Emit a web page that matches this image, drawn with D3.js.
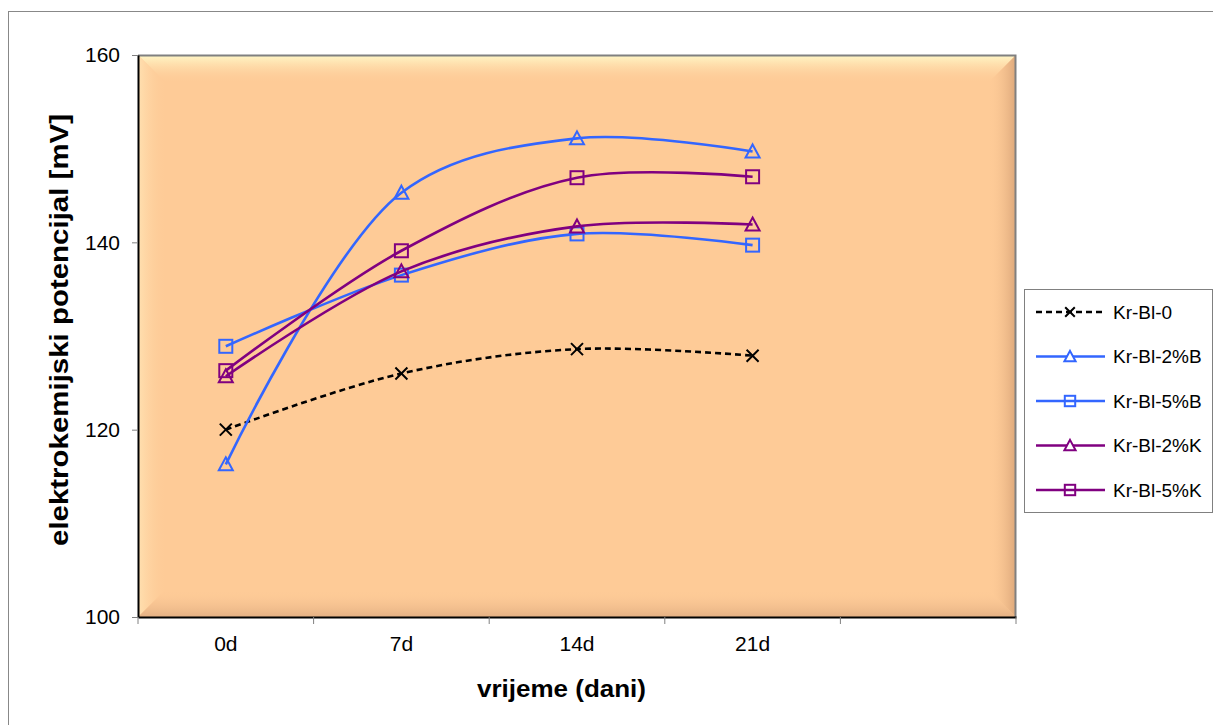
<!DOCTYPE html>
<html><head><meta charset="utf-8">
<script src="https://cdn.jsdelivr.net/npm/d3@7"></script>
<style>html,body{margin:0;padding:0;background:#fff;}svg{display:block;font-family:"Liberation Sans",Arial,sans-serif;}</style>
</head><body>
<svg id="chart" width="1213" height="725"></svg>
<script>
const categories = ["0d", "7d", "14d", "21d"];
const seriesNames = ["Kr-Bl-0", "Kr-Bl-2%B", "Kr-Bl-5%B", "Kr-Bl-2%K", "Kr-Bl-5%K"];
const krBl0  = [120.0, 126.0, 128.6, 127.9];
const krBl2B = [116.3, 145.3, 151.1, 149.7];
const krBl5B = [128.9, 136.5, 140.9, 139.7];
const krBl2K = [125.7, 136.9, 141.7, 141.9];
const krBl5K = [126.3, 139.1, 146.9, 147.0];
const yTicks = [100, 120, 140, 160];

const series = [
  {name: seriesNames[0], values: krBl0,  color: "#000000", marker: "x", dash: "6,4"},
  {name: seriesNames[1], values: krBl2B, color: "#3366FF", marker: "tri"},
  {name: seriesNames[2], values: krBl5B, color: "#3366FF", marker: "sq"},
  {name: seriesNames[3], values: krBl2K, color: "#800080", marker: "tri"},
  {name: seriesNames[4], values: krBl5K, color: "#800080", marker: "sq"}
];

const svg = d3.select("#chart");
const L = 138, R = 1016, T = 55, B = 617;
const FF = "Liberation Sans, Arial, sans-serif";

// outer border
svg.append("rect").attr("x", 8.5).attr("y", 11.5).attr("width", 1220).attr("height", 720)
  .attr("fill", "none").attr("stroke", "#888").attr("stroke-width", 1);

const x = d3.scaleBand().domain(categories.concat([" "])).range([L, R]).padding(0);
const y = d3.scaleLinear().domain([100, 160]).range([B, T]);

// plot area with bevel
const defs = svg.append("defs");
function grad(id, x1, y1, x2, y2, c1, o1, c2, o2) {
  const g = defs.append("linearGradient").attr("id", id)
    .attr("x1", x1).attr("y1", y1).attr("x2", x2).attr("y2", y2);
  g.append("stop").attr("offset", "0").attr("stop-color", c1).attr("stop-opacity", o1);
  g.append("stop").attr("offset", "1").attr("stop-color", c2).attr("stop-opacity", o2);
}
grad("gTop", 0, 0, 0, 1, "#FFF8C8", 1, "#FFCC99", 0);
grad("gLeft", 0, 0, 1, 0, "#FFE0B0", 1, "#FFCC99", 0);
grad("gBot", 0, 1, 0, 0, "#E4B083", 1, "#FFCC99", 0);
grad("gRight", 1, 0, 0, 0, "#DCA77A", 1, "#FFCC99", 0);

svg.append("rect").attr("x", L).attr("y", T).attr("width", R - L).attr("height", B - T).attr("fill", "#FECB97");
const bw = 28;
svg.append("polygon").attr("points", `${L},${T} ${R},${T} ${R-bw},${T+bw} ${L+bw},${T+bw}`).attr("fill", "url(#gTop)");
svg.append("polygon").attr("points", `${L},${T} ${L+bw},${T+bw} ${L+bw},${B-bw} ${L},${B}`).attr("fill", "url(#gLeft)");
svg.append("polygon").attr("points", `${L},${B} ${L+bw},${B-bw} ${R-bw},${B-bw} ${R},${B}`).attr("fill", "url(#gBot)");
svg.append("polygon").attr("points", `${R},${T} ${R},${B} ${R-bw},${B-bw} ${R-bw},${T+bw}`).attr("fill", "url(#gRight)");
svg.append("path").attr("d", `M${L},${T+0.5}H${R-0.5}V${B}`).attr("fill", "none").attr("stroke", "#808080").attr("stroke-width", 2);

// Y axis
const yAxis = svg.append("g").attr("transform", `translate(${L},0)`)
  .call(d3.axisLeft(y).tickValues(yTicks).tickSize(6).tickPadding(12).tickSizeOuter(0));
yAxis.select(".domain").attr("stroke", "#000").attr("stroke-width", 2);
yAxis.selectAll(".tick line").attr("stroke", "#808080");
yAxis.selectAll("text").attr("font-size", 21).attr("fill", "#000").attr("font-family", FF);

// X axis labels
const xAxis = svg.append("g").attr("transform", `translate(0,${B})`)
  .call(d3.axisBottom(x).tickValues(categories).tickSize(0).tickPadding(19).tickSizeOuter(0));
xAxis.select(".domain").attr("stroke", "#000").attr("stroke-width", 2);
xAxis.selectAll("text").attr("font-size", 21).attr("fill", "#000").attr("font-family", FF);
const tickPos = x.domain().map(d => x(d)).concat([R]);
svg.append("g").selectAll("line").data(tickPos).join("line")
  .attr("x1", d => d).attr("x2", d => d).attr("y1", B).attr("y2", B + 7)
  .attr("stroke", "#808080").attr("stroke-width", 1);

// axis titles
svg.append("text").attr("x", 561.5).attr("y", 697).attr("text-anchor", "middle")
  .attr("font-size", 24).attr("font-weight", "bold")
  .attr("textLength", 169).attr("lengthAdjust", "spacingAndGlyphs").text("vrijeme (dani)");
svg.append("text").attr("transform", "translate(68,330) rotate(-90)").attr("text-anchor", "middle")
  .attr("font-size", 25).attr("font-weight", "bold")
  .attr("textLength", 432).attr("lengthAdjust", "spacingAndGlyphs").text("elektrokemijski potencijal [mV]");

// lines
const cx = c => x(c) + x.bandwidth() / 2;
const line = d3.line().x((d, i) => cx(categories[i])).y(d => y(d)).curve(d3.curveCatmullRom.alpha(0.5));

function drawMarker(g, type, color, k) {
  k = k || 1;
  if (type === "tri") {
    g.append("path").attr("d", `M0,${-7*k} L${7*k},${6*k} L${-7*k},${6*k} Z`).attr("fill", "none").attr("stroke", color).attr("stroke-width", 2);
  } else if (type === "sq") {
    g.append("rect").attr("x", -6.5*k).attr("y", -6.5*k).attr("width", 13*k).attr("height", 13*k)
      .attr("fill", "none").attr("stroke", color).attr("stroke-width", 2);
  } else {
    g.append("path").attr("d", `M${-6*k},${-6*k} L${6*k},${6*k} M${-6*k},${6*k} L${6*k},${-6*k}`).attr("stroke", color).attr("stroke-width", 2);
  }
}

series.forEach(s => {
  svg.append("path").datum(s.values).attr("d", line).attr("fill", "none")
    .attr("stroke", s.color).attr("stroke-width", 2.6)
    .attr("stroke-dasharray", s.dash || null);
  s.values.forEach((v, i) => {
    const g = svg.append("g").attr("transform", `translate(${cx(categories[i])},${y(v)})`);
    drawMarker(g, s.marker, s.color);
  });
});

// legend
const lg = svg.append("g");
lg.append("rect").attr("x", 1024.5).attr("y", 289.5).attr("width", 188).attr("height", 223)
  .attr("fill", "#fff").attr("stroke", "#808080").attr("stroke-width", 1);
const legY = d3.scalePoint().domain(seriesNames).range([312, 490]);
series.forEach(s => {
  const yy = legY(s.name);
  lg.append("line").attr("x1", 1036).attr("x2", 1105).attr("y1", yy).attr("y2", yy)
    .attr("stroke", s.color).attr("stroke-width", 2.6).attr("stroke-dasharray", s.dash || null);
  const g = lg.append("g").attr("transform", `translate(1070,${yy})`);
  if (s.marker === "tri") g.append("path").attr("d", "M0,-5.6 L5.6,4.8 L-5.6,4.8 Z").attr("fill", "#fff");
  drawMarker(g, s.marker, s.color, 0.8);
  lg.append("text").attr("x", 1113).attr("y", yy).attr("dy", "0.35em")
    .attr("font-size", 19).attr("fill", "#000").text(s.name);
});
</script>
</body></html>
